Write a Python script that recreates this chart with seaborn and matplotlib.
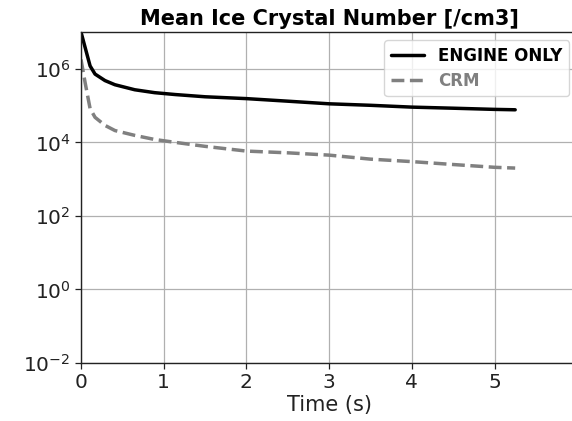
import numpy as np
import pandas as pd
import matplotlib
matplotlib.use("Agg")
import matplotlib.pyplot as plt
import seaborn as sns

# Data
time_engine = [0.0, 0.11, 0.17, 0.29, 0.41, 0.65, 0.89, 1.14, 1.5, 2.0, 2.5, 3.0,
               3.5, 4.0, 4.5, 5.0, 5.25]
engine_only = [1.0e7, 1.2e6, 7.2e5, 4.8e5, 3.7e5, 2.7e5, 2.25e5, 2.0e5, 1.74e5, 1.55e5,
               1.32e5, 1.12e5, 1.02e5, 9.1e4, 8.5e4, 7.9e4, 7.7e4]

time_crm = [0.0, 0.05, 0.11, 0.17, 0.29, 0.41, 0.65, 0.89, 1.14, 1.5, 2.0, 2.5, 3.0,
            3.5, 4.0, 4.5, 5.0, 5.25]
crm = [1.8e6, 4.2e5, 8.3e4, 4.8e4, 2.9e4, 2.1e4, 1.55e4, 1.2e4, 1.0e4, 7.8e3, 5.8e3,
       5.2e3, 4.5e3, 3.5e3, 3.0e3, 2.5e3, 2.1e3, 2.0e3]

series_labels = ["ENGINE ONLY", "CRM"]
x_ticks = [0, 1, 2, 3, 4, 5, 6]
y_ticks = [1e-2, 1e0, 1e2, 1e4, 1e6]

df_engine = pd.DataFrame({"Time (s)": time_engine, "N": engine_only})
df_crm = pd.DataFrame({"Time (s)": time_crm, "N": crm})

sns.set_theme(style="ticks")
plt.rcParams["font.family"] = ["DejaVu Sans"]

fig = plt.figure(figsize=(5.72, 4.21), dpi=100)
ax = fig.add_axes([0.1416, 0.1378, 0.8675, 0.786])

sns.lineplot(data=df_engine, x="Time (s)", y="N", ax=ax, color="black",
             linewidth=2.5, label=series_labels[0])
sns.lineplot(data=df_crm, x="Time (s)", y="N", ax=ax, color="gray",
             linewidth=2.5, linestyle="--", label=series_labels[1])

ax.set_yscale("log")
ax.set_xlim(0, 6)
ax.set_ylim(1e-2, 1e7)
ax.set_xticks(x_ticks)
ax.set_yticks(y_ticks)
ax.minorticks_off()
ax.grid(True, color="#b0b0b0", linewidth=0.9)
for s in ax.spines.values():
    s.set_color("#222222")
    s.set_linewidth(1.0)
ax.tick_params(axis="both", labelsize=14.5, length=4, width=0.9, color="#222222",
               labelcolor="#222222")
ax.set_xlabel("Time (s)", fontsize=15, color="#222222", labelpad=2)
ax.set_ylabel("")
ax.set_title("Mean Ice Crystal Number [/cm3]", fontsize=15, fontweight="bold",
             color="black", pad=5)

leg = ax.legend(loc="upper right", prop={"weight": "bold", "size": 12},
                frameon=True, handlelength=2.0, labelspacing=0.4)
for txt, col in zip(leg.get_texts(), ["black", "gray"]):
    txt.set_color(col)

fig.savefig("out.png", dpi=100)
